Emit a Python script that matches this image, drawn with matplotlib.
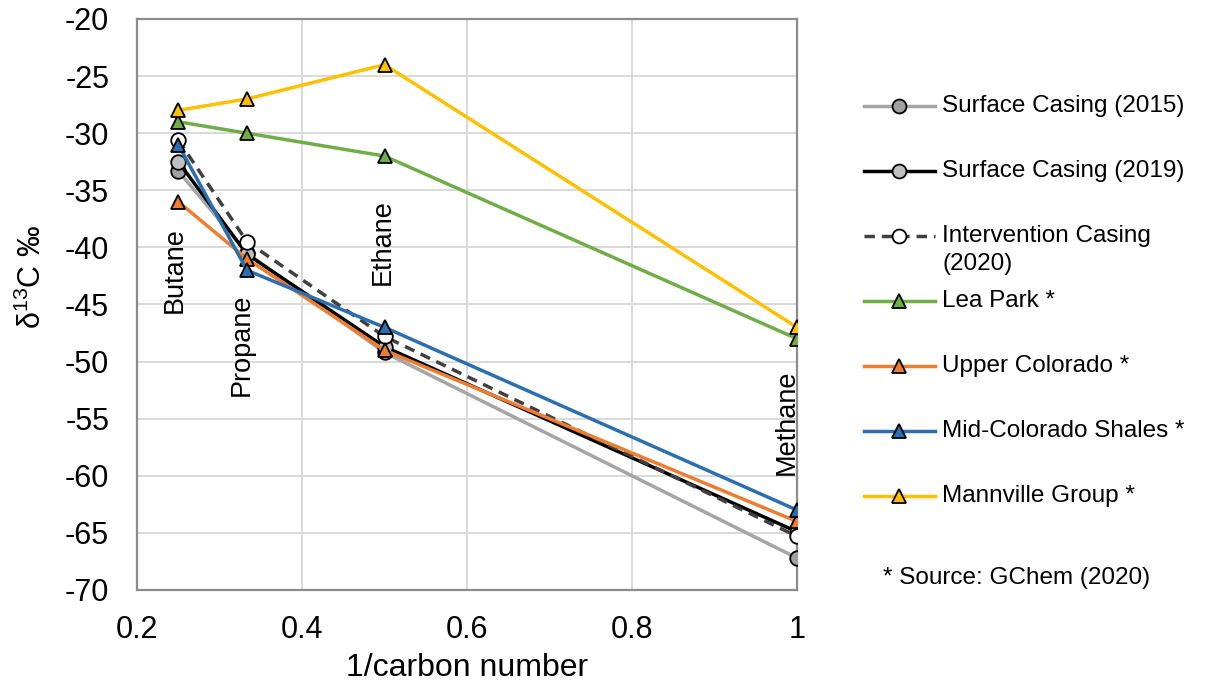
import matplotlib.pyplot as plt
from matplotlib.lines import Line2D

plt.rcParams['font.family'] = ['Liberation Sans', 'DejaVu Sans']
plt.rcParams['axes.unicode_minus'] = False
plt.rcParams['mathtext.fontset'] = 'custom'
plt.rcParams['mathtext.rm'] = 'Liberation Sans'

# 1/carbon number for butane, propane, ethane, methane
inv_carbon = [0.25, 1 / 3, 0.5, 1.0]
gas_names = ['Butane', 'Propane', 'Ethane', 'Methane']

# delta 13C (per mil) for each sample / formation
surface_2015 = [-33.3, -40.5, -49.2, -67.2]
surface_2019 = [-32.5, -40.6, -48.7, -64.9]
intervention_2020 = [-30.6, -39.5, -47.8, -65.3]
lea_park = [-29.0, -30.0, -32.0, -48.0]
upper_colorado = [-36.0, -41.0, -49.0, -64.0]
mid_colorado = [-31.0, -42.0, -47.0, -63.0]
mannville = [-28.0, -27.0, -24.0, -47.0]

series = [
    ('Surface Casing (2015)', surface_2015, '#A5A5A5', '-', 'o', '#A0A0A0'),
    ('Surface Casing (2019)', surface_2019, '#000000', '-', 'o', '#BFBFBF'),
    ('Intervention Casing\n(2020)', intervention_2020, '#404040', (0, (3, 2)), 'o', '#FFFFFF'),
    ('Lea Park *', lea_park, '#70AD47', '-', '^', '#70AD47'),
    ('Upper Colorado *', upper_colorado, '#ED7D31', '-', '^', '#ED7D31'),
    ('Mid-Colorado Shales *', mid_colorado, '#2B6FB0', '-', '^', '#2B6FB0'),
    ('Mannville Group *', mannville, '#FFC000', '-', '^', '#FFC000'),
]

# where each gas name sits (data coords)
label_pos = [(0.246, -42.0), (0.327, -48.5), (0.498, -39.5), (0.987, -55.3)]

W, H = 1212, 688
fig = plt.figure(figsize=(W / 100, H / 100), dpi=100)
ax = fig.add_axes([137 / W, 1 - 590 / H, (797 - 137) / W, (590 - 19) / H])

for name, vals, color, ls, mk, face in series:
    ms = 10.5 if mk == 'o' else 10
    ax.plot(inv_carbon, vals, color=color, linestyle=ls, linewidth=2.5,
            marker=mk, markersize=ms, markerfacecolor=face,
            markeredgecolor='black', markeredgewidth=1.3, zorder=3)

for gas, (gx, gy) in zip(gas_names, label_pos):
    ax.text(gx, gy, gas, rotation=90, ha='center', va='center', fontsize=19.5, zorder=4)

ax.set_xlim(0.2, 1.0)
ax.set_ylim(-70, -20)
ax.set_xticks([0.2, 0.4, 0.6, 0.8, 1.0])
ax.set_xticklabels(['0.2', '0.4', '0.6', '0.8', '1'])
ax.set_yticks(range(-70, -19, 5))
ax.tick_params(length=0, labelsize=22)
ax.tick_params(axis='x', pad=18)
ax.tick_params(axis='y', pad=20)
ax.grid(True, color='#D9D9D9', linewidth=1.4, zorder=0)
ax.set_axisbelow(True)
for sp in ax.spines.values():
    sp.set_color('#8C8C8C')
    sp.set_linewidth(1.6)

ax.set_xlabel('1/carbon number', fontsize=23, labelpad=6)
fig.text(32 / W, 1 - 277 / H, r'δ$^{\mathregular{13}}$C ‰', rotation=90,
         ha='center', va='center', fontsize=22)

# legend drawn by hand so the two-line entry keeps the row spacing
row_y0, row_step = 106, 65
for i, (name, vals, color, ls, mk, face) in enumerate(series):
    y = 1 - (row_y0 + i * row_step) / H
    fig.add_artist(Line2D([864 / W, 935 / W], [y, y], color=color, linestyle=ls,
                          linewidth=2.5, transform=fig.transFigure))
    fig.add_artist(Line2D([899 / W], [y], marker=mk, markersize=10 if mk == 'o' else 9.5,
                          markerfacecolor=face, markeredgecolor='black',
                          markeredgewidth=1.3, transform=fig.transFigure))
    for k, line in enumerate(name.split('\n')):
        fig.text(942 / W, y - k * 28 / H, line, fontsize=17.5, ha='left', va='center')

fig.text(883 / W, 1 - 578 / H, '* Source: GChem (2020)', fontsize=17.5, ha='left', va='center')

fig.savefig('out.png', dpi=100)
